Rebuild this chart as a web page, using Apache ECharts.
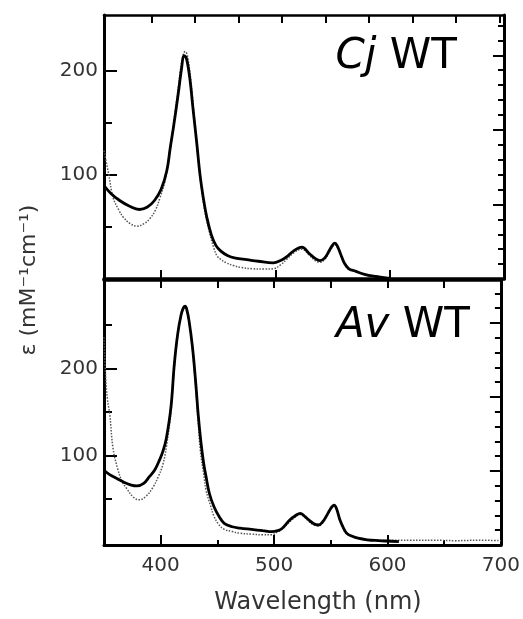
<!DOCTYPE html>
<html>
<head>
<meta charset="utf-8">
<script src="https://cdn.jsdelivr.net/npm/echarts@6/dist/echarts.min.js"></script>
<style>
html,body{margin:0;padding:0;background:#fff;}
#chart{width:523px;height:619px;}
</style>
</head>
<body>
<div id="chart"></div>
<script>
// ---- Data ----
// Cj WT, solid trace
const cjSolidNm = [350,356,364,372,381,388,394,400,405,408,411,415,418,420,422,425,428,431,434,437,440,444,448,452,458,465,475,485,498,505,510,516,523,530,535,539,543,547,550,552,554,557,560,564,570,578,588,600];
const cjSolidEps = [89.6,82,75,70,66.6,69,75,86,104,126,147,178,203,214,212,193,162,132,100,77,59,42,32,27,22.5,20,18.5,17,15.5,18,21.5,27,30.5,24,19.5,17.7,20,27,32.5,34.3,32,24,16,10,7.5,4.5,2.4,0.5];
// Cj WT, dotted trace
const cjDotNm = [350,354,358,363,367,373,379,385,390,395,399,403,407,411,415,418,421,423,426,429,432,435,438,442,446,449,452,457,463,470,480,490,498,505,510,516,523,530,535,539,543,547,550,552,554,557,560,564,570,578,588,600];
const cjDotEps = [123,101,78,66,59,53,50.6,53,57.7,66,78,92,118,150,183,208,218,214,190,155,120,90,66,46,30,22,19,15.5,13,11,9.8,9.5,9.8,14,19,25,28.5,22.5,17.5,16,18.5,25.5,31,33,30.5,23,15,9.5,7,4,2,0.5];
// Av WT, solid trace
const avSolidNm = [350,355,361,368,374,379,385,390,395,399,402,405,409,412,415,418,420,421.5,423,425,428,431,433,435.5,438,440,443,447,451.5,456,463,470,480,490,498,503,507,514,519,523,527,530,535,539,543,546,549,551,553,555,558,561,564,569,574,582,592,600,610];
const avSolidEps = [83,78,73.8,69,66,65,68,75.6,84,95,105,120,155,205,240,262,270,272,268,255,225,182,148,115,90,75.6,56,41,29.7,22,18,16.5,15,13.5,12.4,13.5,16,26,31,33.5,30,26.6,21.5,20,24,30,37,41,43,39,26,17,10.6,7,4.8,3,2,1.5,1];
// Av WT, dotted trace
const avDotNm = [350,351.5,353,355,358,362,366,370,376,381,387,393,398,402,405,409,412,415,418,421,423,425,428,431,433,435,438,440,444,447,451,456,463,470,480,490,498,503,507,514,519,523,527,530,535,539,543,546,549,551,553,555,558,561,564,569,574,582,592,600,620,640,660,680,700];
const avDotEps = [236,190,165,148,108,85,70,62,52,49,53,63,76,90,110,150,200,238,262,272,270,255,222,175,140,105,78,60,42,30,21,15,12.5,10.5,9.5,8.8,8.8,12,15,24,29.5,32,29,25,20,19,23,29,36,40,42,38,25,16,10,6.5,4.5,3,2.5,2.5,2.5,2.5,2,2.5,2];

// ---- Axis ranges and tick values ----
const xMin = 350, xMax = 700;
const xLabelTicks = [400, 500, 600, 700];
const xTopPanelBottomTicks = [400, 500, 600];
const xMinorTicks = [450, 550, 650];
const xMidTicks = [400, 450, 500, 550, 600, 650];
const xTopEdgeTicks = [391.6, 429.6, 467.7, 505.8, 543.8, 581.9, 619.9, 658, 696];
const yTopRange = [0, 253];
const yBotRange = [-3, 302];
const yLabelTicks = [100, 200];
const yMinorTicksTop = [50, 150];
const yMinorTicksBot = [50, 150, 250];
const rTopRange = [0, 17.7];
const rBotRange = [0, 17.9];
const rMajorTicks = [5, 10, 15];
const rMinorTicks = [1,2,3,4,6,7,8,9,11,12,13,14,16,17];

const FONT = 'DejaVu Sans';
const pairs = (xs, ys) => xs.map((x, i) => [x, ys[i]]);

function xAx(grid, pos, ticks, len, opts) {
  return Object.assign({
    type: 'value', gridIndex: grid, position: pos, min: xMin, max: xMax,
    axisLine: { show: true, onZero: false, lineStyle: { color: '#000', width: 3 } },
    axisTick: { show: true, inside: true, length: len, customValues: ticks, lineStyle: { color: '#000', width: 2 } },
    axisLabel: { show: false },
    splitLine: { show: false }
  }, opts || {});
}
function yAx(grid, pos, range, ticks, len, opts) {
  return Object.assign({
    type: 'value', gridIndex: grid, position: pos, min: range[0], max: range[1],
    axisLine: { show: true, onZero: false, lineStyle: { color: '#000', width: 3 } },
    axisTick: { show: true, inside: true, length: len, customValues: ticks, lineStyle: { color: '#000', width: 2 } },
    axisLabel: { show: false },
    splitLine: { show: false }
  }, opts || {});
}
const labelStyle = (vals) => ({ show: true, customValues: vals, fontFamily: FONT, fontSize: 20, color: '#333' });

const chart = echarts.init(document.getElementById('chart'), null, { renderer: 'canvas' });
chart.setOption({
  animation: false,
  backgroundColor: '#fff',
  grid: [
    { left: 104, right: 19, top: 15, height: 264 },
    { left: 104, right: 19, top: 280, height: 265 }
  ],
  xAxis: [
    xAx(0, 'bottom', xTopPanelBottomTicks, 9, { axisLine: { show: true, onZero: false, lineStyle: { color: '#000', width: 3.5 } } }),
    xAx(0, 'top', xTopEdgeTicks, 8, { axisLine: { show: true, onZero: false, lineStyle: { color: '#000', width: 2.5 } } }),
    xAx(1, 'bottom', xLabelTicks, 10, { axisLabel: Object.assign(labelStyle(xLabelTicks), { margin: 11 }) }),
    xAx(1, 'bottom', xMinorTicks, 5, { axisLine: { show: false, onZero: false } }),
    xAx(1, 'top', xMidTicks, 8, { axisLine: { show: true, onZero: false, lineStyle: { color: '#000', width: 3.5 } } })
  ],
  yAxis: [
    yAx(0, 'left', yTopRange, yLabelTicks, 13, { axisLabel: Object.assign(labelStyle(yLabelTicks), { margin: 6 }) }),
    yAx(0, 'left', yTopRange, yMinorTicksTop, 8, { axisLine: { show: false, onZero: false } }),
    yAx(0, 'right', rTopRange, rMajorTicks, 11),
    yAx(0, 'right', rTopRange, rMinorTicks, 6, { axisLine: { show: false, onZero: false } }),
    yAx(1, 'left', yBotRange, yLabelTicks, 13, { axisLabel: Object.assign(labelStyle(yLabelTicks), { margin: 6 }) }),
    yAx(1, 'left', yBotRange, yMinorTicksBot, 8, { axisLine: { show: false, onZero: false } }),
    yAx(1, 'right', rBotRange, rMajorTicks, 11),
    yAx(1, 'right', rBotRange, rMinorTicks, 6, { axisLine: { show: false, onZero: false } })
  ],
  series: [
    { type: 'line', xAxisIndex: 0, yAxisIndex: 0, data: pairs(cjDotNm, cjDotEps), showSymbol: false, smooth: 0.4,
      lineStyle: { color: '#555', width: 1.5, type: 'dotted' }, z: 3 },
    { type: 'line', xAxisIndex: 0, yAxisIndex: 0, data: pairs(cjSolidNm, cjSolidEps), showSymbol: false, smooth: 0.4,
      lineStyle: { color: '#000', width: 2.8 }, z: 4 },
    { type: 'line', xAxisIndex: 2, yAxisIndex: 4, data: pairs(avDotNm, avDotEps), showSymbol: false, smooth: 0.4,
      lineStyle: { color: '#555', width: 1.5, type: 'dotted' }, z: 3 },
    { type: 'line', xAxisIndex: 2, yAxisIndex: 4, data: pairs(avSolidNm, avSolidEps), showSymbol: false, smooth: 0.4,
      lineStyle: { color: '#000', width: 2.8 }, z: 4 }
  ],
  graphic: [
    { type: 'text', x: 457, y: 57, style: { text: '{i|Cj} WT', align: 'right', verticalAlign: 'middle', fontFamily: FONT, fontSize: 42, fill: '#000',
        rich: { i: { fontStyle: 'italic', fontFamily: FONT, fontSize: 42, fill: '#000' } } } },
    { type: 'text', x: 470, y: 326, style: { text: '{i|Av} WT', align: 'right', verticalAlign: 'middle', fontFamily: FONT, fontSize: 42, fill: '#000',
        rich: { i: { fontStyle: 'italic', fontFamily: FONT, fontSize: 42, fill: '#000' } } } },
    { type: 'text', x: 29, y: 280, rotation: Math.PI / 2, style: { text: 'ε (mM⁻¹cm⁻¹)', align: 'center', verticalAlign: 'middle', fontFamily: FONT, fontSize: 22, fill: '#333' } },
    { type: 'text', x: 318, y: 603, style: { text: 'Wavelength (nm)', align: 'center', verticalAlign: 'middle', fontFamily: FONT, fontSize: 24, fill: '#333' } }
  ]
});
</script>
</body>
</html>
